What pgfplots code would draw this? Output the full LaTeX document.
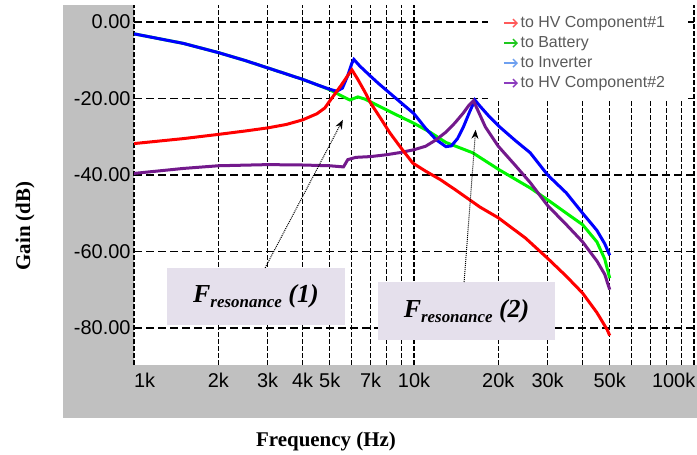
\documentclass[border=0pt]{standalone}
\usepackage{pgfplots}
\pgfplotsset{compat=1.18}
\usepackage{fontspec}
\setmainfont{Liberation Serif}
\setsansfont{Liberation Sans}
\usetikzlibrary{arrows.meta}
\definecolor{cred}{RGB}{255,0,0}
\definecolor{cgreen}{RGB}{0,245,0}
\definecolor{cblue}{RGB}{0,0,255}
\definecolor{cpurple}{RGB}{115,25,140}
\definecolor{lred}{RGB}{255,90,90}
\definecolor{lgreen}{RGB}{30,200,30}
\definecolor{lblue}{RGB}{110,160,240}
\definecolor{lpurple}{RGB}{140,60,190}
\definecolor{gframe}{RGB}{192,192,192}
\definecolor{lav}{RGB}{229,224,236}
\definecolor{legtext}{RGB}{90,90,90}

\pgfplotstableread{
f db
1000 -3.1
1500 -5.6
2000 -8.0
2500 -10.1
3000 -12.0
3500 -13.6
4000 -15.0
4500 -16.4
5000 -17.6
5300 -18.1
5550 -17.3
5800 -14.0
6000 -10.8
6100 -9.8
6400 -11.5
7000 -14.2
7500 -16.2
8500 -19.6
10000 -24.0
11000 -27.8
12000 -30.8
13000 -32.6
13600 -32.4
14300 -30.5
15000 -27.5
15800 -23.5
16500 -20.4
17200 -22.0
18500 -24.6
20200 -27.4
23000 -31.0
26000 -34.2
30000 -40.0
35000 -44.7
40000 -50.0
45000 -54.5
48000 -58.0
50000 -61.0
}\blue

\pgfplotstableread{
f db
1000 -3.1
1500 -5.6
2000 -8.0
2500 -10.1
3000 -12.0
3500 -13.6
4000 -15.0
4500 -16.4
5000 -17.7
5500 -19.3
5900 -20.4
6300 -19.6
6700 -20.2
7500 -22.0
8500 -24.0
10000 -26.5
11400 -28.8
13000 -31.5
16200 -34.2
20200 -38.7
26000 -43.4
30000 -46.5
35000 -50.0
40000 -53.0
45000 -57.5
48000 -62.0
50000 -67.0
}\green

\pgfplotstableread{
f db
1000 -39.6
1500 -38.3
2000 -37.6
3000 -37.3
4000 -37.4
5000 -37.6
5600 -37.9
5800 -36.0
6200 -35.4
7000 -35.2
8000 -34.7
9000 -34.1
10000 -33.4
11000 -32.5
12000 -30.8
13000 -28.8
14000 -26.4
15000 -23.8
15700 -21.8
16300 -20.6
17000 -23.5
18000 -27.5
20000 -32.5
23000 -37.5
26000 -42.0
30000 -48.0
35000 -53.0
40000 -57.5
45000 -62.5
48000 -66.0
50000 -70.0
}\purple

\pgfplotstableread{
f db
1000 -31.8
1500 -30.5
2000 -29.4
2500 -28.5
3000 -27.7
3500 -26.8
4000 -25.6
4500 -24.0
4800 -22.5
5100 -19.8
5500 -16.5
5800 -14.0
6000 -12.5
6300 -15.0
6700 -18.5
7000 -21.2
7600 -25.2
8200 -29.0
9000 -33.0
9900 -36.9
11000 -39.0
12400 -41.2
14000 -43.8
17200 -48.4
20000 -51.2
25000 -56.5
30000 -61.8
35000 -66.5
40000 -70.9
45000 -76.0
49000 -80.5
50000 -82.0
}\red

\begin{document}
\begin{tikzpicture}
\useasboundingbox (0,0) rectangle (697bp,455bp);
\fill[gframe] (63bp,37bp) rectangle (697bp,450bp);
\begin{axis}[
  at={(134bp,90bp)}, anchor=south west,
  scale only axis, width=563bp, height=360bp,
  xmode=log, xmin=1000, xmax=102500,
  ymin=-89.7, ymax=4.44,
  axis background/.style={fill=white},
  axis line style={draw=none},
  major tick length=0pt, minor tick length=0pt,
  xtick={1000,2000,3000,4000,5000,6000,7000,8000,9000,10000,20000,30000,40000,50000,60000,70000,80000,90000,100000},
  xticklabels={\makebox[0pt][l]{1k},2k,3k,4k,5k,{},7k,{},{},10k,20k,30k,{},50k,{},{},{},{},\makebox[0pt][l]{\hspace*{-42bp}100k}},
  ytick={-80,-60,-40,-20,0},
  yticklabels={-80.00,-60.00,-40.00,-20.00,0.00},
  xmajorgrids, ymajorgrids,
  x grid style={black, line width=1.2bp, dash pattern=on 4.5bp off 2.5bp},
  y grid style={black, line width=1.2bp, dash pattern=on 8bp off 4bp},
  ticklabel style={font=\sffamily\fontsize{20}{24}\selectfont, text=black},
  xticklabel style={yshift=-5bp},
  xlabel={Frequency (Hz)},
  ylabel={Gain (dB)},
  xlabel style={at={(axis description cs:0.341,-0.212)}, anchor=center, font=\bfseries\fontsize{21}{24}\selectfont},
  ylabel style={at={(axis description cs:-0.1936,0.386)}, anchor=center, rotate=0, font=\bfseries\fontsize{21}{24}\selectfont},
  legend style={draw=none, fill=none, inner sep=0pt, row sep=0pt,
    at={(0.6554,0.978)}, anchor=north west,
    font=\sffamily\fontsize{16}{19}\selectfont, text=legtext,
    nodes={text height=12bp, text depth=4bp, inner ysep=2bp}},
  legend cell align=left,
  legend image code/.code={\draw[#1, line width=1.4bp, -{Straight Barb[length=4bp,width=8bp]}] (0bp,0bp) -- (14bp,0bp);},
]
\addplot[cgreen, line width=3bp, forget plot] table[x=f,y=db] {\green};
\addplot[cblue, line width=3bp, forget plot] table[x=f,y=db] {\blue};
\addplot[cpurple, line width=3bp, forget plot] table[x=f,y=db] {\purple};
\addplot[cred, line width=3bp, forget plot] table[x=f,y=db] {\red};

\fill[white] (rel axis cs:0.629,1) rectangle (rel axis cs:0.984,0.7347);

\addlegendimage{lred}
\addlegendentry{to HV Component\#1}
\addlegendimage{lgreen}
\addlegendentry{to Battery}
\addlegendimage{lblue}
\addlegendentry{to Inverter}
\addlegendimage{lpurple}
\addlegendentry{to HV Component\#2}

\fill[lav] (axis cs:1310,-64.3) rectangle (axis cs:5670,-79.2);
\node at (axis cs:2725,-71.75) {\fontsize{26}{30}\selectfont\bfseries\itshape F\raisebox{-5bp}{\fontsize{17}{20}\selectfont resonance}~(1)};
\fill[lav] (axis cs:7440,-68.0) rectangle (axis cs:31900,-83.1);
\node at (axis cs:15400,-75.55) {\fontsize{26}{30}\selectfont\bfseries\itshape F\raisebox{-5bp}{\fontsize{17}{20}\selectfont resonance}~(2)};

\draw[densely dotted, line width=1bp, -{Stealth[length=9bp,width=7bp]}] (axis cs:2940,-64.3) -- (axis cs:5570,-25.6);
\draw[densely dotted, line width=1bp, -{Stealth[length=9bp,width=7bp]}] (axis cs:15100,-68.0) -- (axis cs:16600,-28.2);
\end{axis}
\end{tikzpicture}
\end{document}
